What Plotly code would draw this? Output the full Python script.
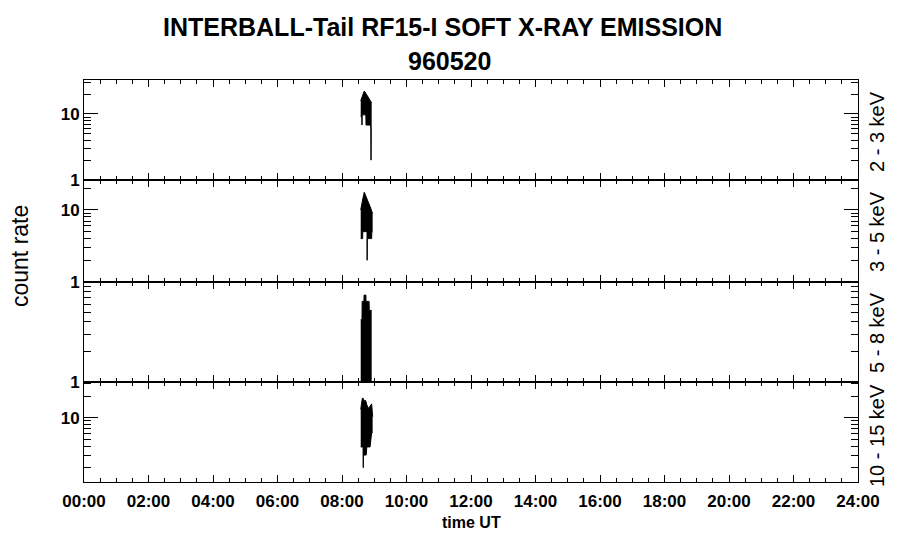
import plotly.graph_objects as go
from plotly.subplots import make_subplots

# time in hours UT, upper / lower envelope of the count rate in each band
t1 = [8.58, 8.615, 8.62, 8.625, 8.69, 8.74, 8.745, 8.77, 8.85, 8.885, 8.895, 8.90, 8.905, 8.92]
hi1 = [15.9, 17.5, 17.8, 18.0, 22.3, 20.5, 20.3, 19.4, 16.7, 15.5, 15.2, 15.0, 14.9, 14.7]
lo1 = [9.1, 9.1, 6.8, 9.7, 9.7, 9.7, 6.8, 6.8, 6.8, 6.8, 5.7, 2.0, 5.7, 5.7]

t2 = [8.58, 8.62, 8.64, 8.645, 8.69, 8.77, 8.775, 8.78, 8.785, 8.85, 8.89, 8.92, 8.925, 8.95]
hi2 = [10.0, 13.0, 14.0, 14.2, 17.6, 14.5, 14.4, 14.3, 14.2, 12.4, 10.6, 9.6, 9.5, 9.0]
lo2 = [4.0, 4.0, 4.0, 5.0, 5.0, 5.0, 5.0, 2.0, 4.0, 4.0, 4.0, 4.0, 5.0, 5.0]

t3 = [8.58, 8.62, 8.625, 8.68, 8.685, 8.74, 8.745, 8.84, 8.845, 8.92]
hi3 = [4.2, 4.2, 6.4, 6.4, 7.4, 7.4, 6.4, 6.4, 5.2, 5.2]
lo3 = [0.9, 0.9, 0.9, 0.9, 0.9, 0.9, 0.9, 0.9, 0.9, 0.9]

t4 = [8.58, 8.63, 8.655, 8.66, 8.665, 8.68, 8.72, 8.75, 8.77, 8.82, 8.87, 8.92, 8.95]
hi4 = [13.1, 18.7, 18.7, 18.7, 18.5, 16.8, 17.7, 16.5, 15.1, 13.5, 14.3, 15.6, 10.3]
lo4 = [3.9, 3.9, 3.9, 2.0, 3.9, 3.0, 3.0, 3.0, 3.9, 3.9, 3.9, 6.2, 6.2]

bands = ["2 - 3 keV", "3 - 5 keV", "5 - 8 keV", "10 - 15 keV"]
hour_ticks = [0, 2, 4, 6, 8, 10, 12, 14, 16, 18, 20, 22, 24]
hour_labels = ["00:00", "02:00", "04:00", "06:00", "08:00", "10:00", "12:00",
               "14:00", "16:00", "18:00", "20:00", "22:00", "24:00"]

series = [(t1, hi1, lo1), (t2, hi2, lo2), (t3, hi3, lo3), (t4, hi4, lo4)]
yranges = [[0, 1.515], [0, 1.415], [0, 1.0], [0.1, 1.5]]
ymajor = [[1, 10], [1, 10], [1], [10]]
yminor = [2, 3, 4, 5, 6, 7, 8, 9, 20, 30]

FONT = "Liberation Sans, Arial, sans-serif"

fig = make_subplots(rows=4, cols=1, shared_xaxes=True, vertical_spacing=0,
                    row_heights=[100, 102, 100, 100])

for i, (t, hi, lo) in enumerate(series):
    r = i + 1
    fig.add_trace(go.Scatter(x=t, y=lo, mode="lines", line=dict(color="black", width=1),
                             showlegend=False, hoverinfo="skip"), row=r, col=1)
    fig.add_trace(go.Scatter(x=t, y=hi, mode="lines", line=dict(color="black", width=1),
                             fill="tonexty", fillcolor="black", showlegend=False), row=r, col=1)
    fig.update_yaxes(type="log", range=yranges[i], tickmode="array", tickvals=ymajor[i],
                     ticktext=[str(v) for v in ymajor[i]],
                     ticks="inside", ticklen=14, tickwidth=1, tickcolor="black",
                     showline=True, linecolor="black", linewidth=1, mirror="allticks",
                     showgrid=False, zeroline=False,
                     tickfont=dict(family=FONT, size=17, color="black", weight="bold"),
                     minor=dict(tickmode="array", tickvals=yminor, ticks="inside",
                                ticklen=7, tickcolor="black", showgrid=False),
                     row=r, col=1)
    fig.update_xaxes(range=[0, 24], tickmode="array", tickvals=hour_ticks, ticktext=hour_labels,
                     ticks="inside", ticklen=7, tickwidth=1, tickcolor="black",
                     showline=True, linecolor="black", linewidth=1, mirror="allticks",
                     showgrid=False, zeroline=False, ticklabelstandoff=4,
                     tickfont=dict(family=FONT, size=17, color="black", weight="bold"),
                     minor=dict(dtick=0.5, ticks="inside", ticklen=4, tickcolor="black",
                                showgrid=False),
                     row=r, col=1)


# page pixel -> paper coords (plot area is 84..858 x 80..482 on the page)
def xp(px):
    return (px - 84) / 774


def yp(py):
    return (482 - py) / 402


ann = [
    dict(text="INTERBALL-Tail RF15-I SOFT X-RAY EMISSION", x=xp(442), y=yp(27), size=25, bold=True),
    dict(text="960520", x=xp(449), y=yp(61), size=25, bold=True),
    dict(text="count rate", x=xp(20), y=yp(256), size=23, angle=-90),
    dict(text="time UT", x=xp(471), y=yp(522), size=16, bold=True),
]
for name, cy in zip(bands, [132, 232, 333, 436]):
    ann.append(dict(text=name, x=xp(877), y=yp(cy), size=20, angle=-90))

for a in ann:
    fig.add_annotation(text=a["text"], x=a["x"], y=a["y"], xref="paper", yref="paper",
                       xanchor="center", yanchor="middle", showarrow=False,
                       textangle=a.get("angle", 0),
                       font=dict(family=FONT, size=a["size"], color="black",
                                 weight="bold" if a.get("bold") else "normal"))

# the page body adds an 8px offset, so the figure is 8px smaller on each side
fig.update_layout(width=892, height=540, margin=dict(l=76, r=42, t=72, b=66),
                  plot_bgcolor="white", paper_bgcolor="white")

fig.write_html("out.html")
